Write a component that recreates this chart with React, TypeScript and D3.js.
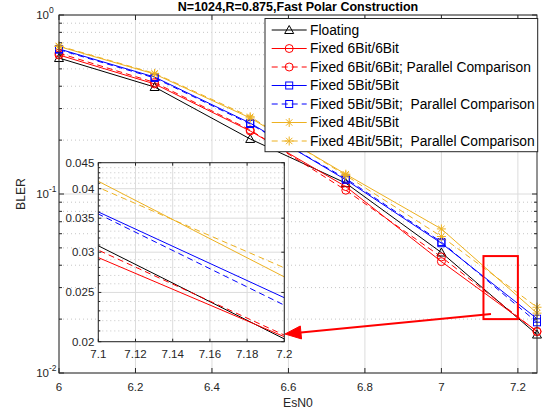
import React from "react";
import * as d3 from "d3";

const esn0 = [6, 6.25, 6.5, 6.75, 7, 7.25];
const floating = [0.575, 0.396, 0.203, 0.115, 0.0471, 0.0164];
const fixed66 = [0.598, 0.412, 0.225, 0.11, 0.0419, 0.0171];
const fixed66PC = [0.612, 0.42, 0.228, 0.105, 0.0445, 0.017];
const fixed55 = [0.646, 0.45, 0.249, 0.12, 0.0531, 0.0201];
const fixed55PC = [0.64, 0.445, 0.246, 0.122, 0.0539, 0.0192];
const fixed45 = [0.667, 0.468, 0.266, 0.129, 0.0638, 0.0216];
const fixed45PC = [0.672, 0.472, 0.27, 0.127, 0.0579, 0.0233];

const seriesNames = [
  "Floating",
  "Fixed 6Bit/6Bit",
  "Fixed 6Bit/6Bit; Parallel Comparison",
  "Fixed 5Bit/5Bit",
  "Fixed 5Bit/5Bit;  Parallel Comparison",
  "Fixed 4Bit/5Bit",
  "Fixed 4Bit/5Bit;  Parallel Comparison",
];
const seriesValues = [floating, fixed66, fixed66PC, fixed55, fixed55PC, fixed45, fixed45PC];
const seriesColors = ["#000000", "#FF0000", "#FF0000", "#0000FF", "#0000FF", "#EDB120", "#EDB120"];
const seriesDashed = [false, false, true, false, true, false, true];
const seriesMarkers = ["tri", "circle", "circle", "square", "square", "star", "star"];

const xTicks = [6, 6.2, 6.4, 6.6, 6.8, 7, 7.2];
const yDecades = [-2, -1, 0];
const insetXTicks = [7.1, 7.12, 7.14, 7.16, 7.18, 7.2];
const insetYTicks = [0.02, 0.025, 0.03, 0.035, 0.04, 0.045];
const zoomBox = { x0: 7.11, x1: 7.2, y0: 0.02, y1: 0.045 };

const title = "N=1024,R=0.875,Fast Polar Construction";
const FONT = "'Liberation Sans', Arial, Helvetica, sans-serif";
const AX = "#262626";

function Marker({ type, cx, cy, color }: { type: string; cx: number; cy: number; color: string }) {
  const common = { fill: "none", stroke: color, strokeWidth: 1 };
  if (type === "circle") return <circle cx={cx} cy={cy} r={4} {...common} />;
  if (type === "square") return <rect x={cx - 3.5} y={cy - 3.5} width={7} height={7} {...common} />;
  if (type === "tri")
    return <path d={`M${cx},${cy - 4.5}L${cx + 4.5},${cy + 3.5}L${cx - 4.5},${cy + 3.5}Z`} {...common} />;
  const r = 4.5;
  const d = r * 0.707;
  return (
    <path
      d={`M${cx - r},${cy}L${cx + r},${cy}M${cx},${cy - r}L${cx},${cy + r}M${cx - d},${cy - d}L${cx + d},${cy + d}M${cx - d},${cy + d}L${cx + d},${cy - d}`}
      {...common}
    />
  );
}

export default function App() {
  const W = 543, H = 415;
  const L = 59, R = 537, T = 15, B = 373;
  const x = d3.scaleLinear().domain([6, 7.25]).range([L, R]);
  const y = d3.scaleLog().domain([0.01, 1]).range([B, T]);

  const iL = 98.3, iR = 284.3, iT = 162.7, iB = 341.7;
  const xi = d3.scaleLinear().domain([7.1, 7.2]).range([iL, iR]);
  const yi = d3.scaleLog().domain([0.02, 0.045]).range([iB, iT]);

  const line = d3.line<number>().x((_, i) => x(esn0[i])).y((v) => y(v));
  const lineI = d3.line<number>().x((_, i) => xi(esn0[i])).y((v) => yi(v));

  const minorY: number[] = [];
  yDecades.slice(0, 2).forEach((e) => {
    for (let k = 2; k <= 9; k++) minorY.push(k * Math.pow(10, e));
  });
  const insetMinorY: number[] = [];
  for (let k = 20; k <= 45; k++) {
    const v = k / 1000;
    if (k % 5 !== 0) insetMinorY.push(v);
  }

  // legend
  const lgL = 265, lgR = 537.7, lgT = 18.5, lgB = 151.7;
  const rowY = (i: number) => 30 + i * 18.5;

  // arrow
  const ax0 = 491, ay0 = 314, ax1 = 285, ay1 = 334;
  const ang = Math.atan2(ay1 - ay0, ax1 - ax0);
  const hl = 16, hw = 6.5;
  const bx = ax1 - hl * Math.cos(ang), by = ay1 - hl * Math.sin(ang);
  const head = `M${ax1},${ay1}L${bx + hw * Math.sin(ang)},${by - hw * Math.cos(ang)}L${bx - hw * Math.sin(ang)},${by + hw * Math.cos(ang)}Z`;

  return (
    <svg width={W} height={H} style={{ position: "absolute", left: 0, top: 0, background: "#fff" }} fontFamily={FONT}>
      <defs>
        <clipPath id="mainclip">
          <rect x={L} y={T} width={R - L} height={B - T} />
        </clipPath>
        <clipPath id="insetclip">
          <rect x={iL} y={iT} width={iR - iL} height={iB - iT} />
        </clipPath>
      </defs>
      <rect x={0} y={0} width={W} height={H} fill="#fff" />
      {/* main grid */}
      {minorY.map((v) => (
        <line key={"my" + v} x1={L} x2={R} y1={y(v)} y2={y(v)} stroke="#b8b8b8" strokeWidth={0.8} strokeDasharray="1,3" />
      ))}
      {yDecades.map((e) => (
        <line key={"gy" + e} x1={L} x2={R} y1={y(Math.pow(10, e))} y2={y(Math.pow(10, e))} stroke="#dcdcdc" strokeWidth={1} />
      ))}
      {xTicks.map((t) => (
        <line key={"gx" + t} x1={x(t)} x2={x(t)} y1={T} y2={B} stroke="#dcdcdc" strokeWidth={1} />
      ))}
      {/* main series */}
      <g clipPath="url(#mainclip)">
        {seriesValues.map((vals, si) => (
          <path
            key={"s" + si}
            d={line(vals) || ""}
            fill="none"
            stroke={seriesColors[si]}
            strokeWidth={1}
            strokeDasharray={seriesDashed[si] ? "6,4" : undefined}
          />
        ))}
      </g>
      {seriesValues.map((vals, si) =>
        vals.map((v, i) => (
          <Marker key={"m" + si + "-" + i} type={seriesMarkers[si]} cx={x(esn0[i])} cy={y(v)} color={seriesColors[si]} />
        ))
      )}
      {/* axes box */}
      <rect x={L} y={T} width={R - L} height={B - T} fill="none" stroke={AX} strokeWidth={1} />
      {xTicks.map((t) => (
        <g key={"xt" + t}>
          <line x1={x(t)} x2={x(t)} y1={B} y2={B - 5} stroke={AX} />
          <line x1={x(t)} x2={x(t)} y1={T} y2={T + 5} stroke={AX} />
          <text x={x(t)} y={B + 18} textAnchor="middle" fontSize={11.5} fill={AX}>
            {d3.format("~g")(t)}
          </text>
        </g>
      ))}
      {yDecades.map((e) => (
        <g key={"yt" + e}>
          <line x1={L} x2={L + 5} y1={y(Math.pow(10, e))} y2={y(Math.pow(10, e))} stroke={AX} />
          <line x1={R} x2={R - 5} y1={y(Math.pow(10, e))} y2={y(Math.pow(10, e))} stroke={AX} />
          <text x={L - 10} y={y(Math.pow(10, e)) + 4} textAnchor="end" fontSize={11.5} fill={AX}>
            10
          </text>
          <text x={L - 10} y={y(Math.pow(10, e)) - 2} textAnchor="start" fontSize={8.5} fill={AX}>
            {e === 0 ? "0" : "-" + Math.abs(e)}
          </text>
        </g>
      ))}
      {minorY.map((v) => (
        <g key={"myt" + v}>
          <line x1={L} x2={L + 3} y1={y(v)} y2={y(v)} stroke={AX} />
          <line x1={R} x2={R - 3} y1={y(v)} y2={y(v)} stroke={AX} />
        </g>
      ))}
      <text x={(L + R) / 2} y={11} textAnchor="middle" fontSize={12.5} fontWeight="bold" fill="#000">
        {title}
      </text>
      <text x={(L + R) / 2} y={407} textAnchor="middle" fontSize={12.2} fill={AX}>
        EsN0
      </text>
      <text transform={`translate(25,${(T + B) / 2}) rotate(-90)`} textAnchor="middle" fontSize={12.2} fill={AX}>
        BLER
      </text>
      {/* zoom rectangle */}
      <rect
        x={x(zoomBox.x0)}
        y={y(zoomBox.y1)}
        width={x(zoomBox.x1) - x(zoomBox.x0)}
        height={y(zoomBox.y0) - y(zoomBox.y1)}
        fill="none"
        stroke="#FF0000"
        strokeWidth={2}
      />
      {/* legend */}
      <rect x={lgL} y={lgT} width={lgR - lgL} height={lgB - lgT} fill="#fff" stroke={AX} strokeWidth={1} />
      {seriesNames.map((name, i) => (
        <g key={"lg" + i}>
          <line
            x1={271.7}
            x2={306.7}
            y1={rowY(i)}
            y2={rowY(i)}
            stroke={seriesColors[i]}
            strokeWidth={1}
            strokeDasharray={seriesDashed[i] ? "6,4" : undefined}
          />
          <Marker type={seriesMarkers[i]} cx={289.2} cy={rowY(i)} color={seriesColors[i]} />
          <text x={310} y={rowY(i) + 4.8} fontSize={13.8} fill="#000" style={{ whiteSpace: "pre" }}>
            {name}
          </text>
        </g>
      ))}
      {/* inset */}
      <rect x={iL} y={iT} width={iR - iL} height={iB - iT} fill="#fff" />
      {insetMinorY.map((v) => (
        <line key={"imy" + v} x1={iL} x2={iR} y1={yi(v)} y2={yi(v)} stroke="#b8b8b8" strokeWidth={0.8} strokeDasharray="1,3" />
      ))}
      {insetYTicks.map((v) => (
        <line key={"igy" + v} x1={iL} x2={iR} y1={yi(v)} y2={yi(v)} stroke="#dcdcdc" />
      ))}
      {insetXTicks.map((t) => (
        <line key={"igx" + t} x1={xi(t)} x2={xi(t)} y1={iT} y2={iB} stroke="#dcdcdc" />
      ))}
      <g clipPath="url(#insetclip)">
        {seriesValues.map((vals, si) => (
          <path
            key={"is" + si}
            d={lineI(vals) || ""}
            fill="none"
            stroke={seriesColors[si]}
            strokeWidth={1}
            strokeDasharray={seriesDashed[si] ? "6,4" : undefined}
          />
        ))}
      </g>
      <rect x={iL} y={iT} width={iR - iL} height={iB - iT} fill="none" stroke={AX} strokeWidth={1} />
      {insetXTicks.map((t) => (
        <g key={"ixt" + t}>
          <line x1={xi(t)} x2={xi(t)} y1={iB} y2={iB - 3} stroke={AX} />
          <line x1={xi(t)} x2={xi(t)} y1={iT} y2={iT + 3} stroke={AX} />
          <text x={xi(t)} y={iB + 16} textAnchor="middle" fontSize={11.5} fill={AX}>
            {d3.format("~g")(t)}
          </text>
        </g>
      ))}
      {insetYTicks.map((v) => (
        <g key={"iyt" + v}>
          <line x1={iL} x2={iL + 3} y1={yi(v)} y2={yi(v)} stroke={AX} />
          <line x1={iR} x2={iR - 3} y1={yi(v)} y2={yi(v)} stroke={AX} />
          <text x={iL - 4} y={yi(v) + 4} textAnchor="end" fontSize={11.5} fill={AX}>
            {d3.format("~g")(v)}
          </text>
        </g>
      ))}
      {insetMinorY.map((v) => (
        <line key={"imt" + v} x1={iL} x2={iL + 2} y1={yi(v)} y2={yi(v)} stroke={AX} />
      ))}
      {/* arrow */}
      <line x1={ax0} y1={ay0} x2={bx} y2={by} stroke="#FF0000" strokeWidth={2} />
      <path d={head} fill="#FF0000" stroke="#FF0000" strokeWidth={1} />
    </svg>
  );
}
